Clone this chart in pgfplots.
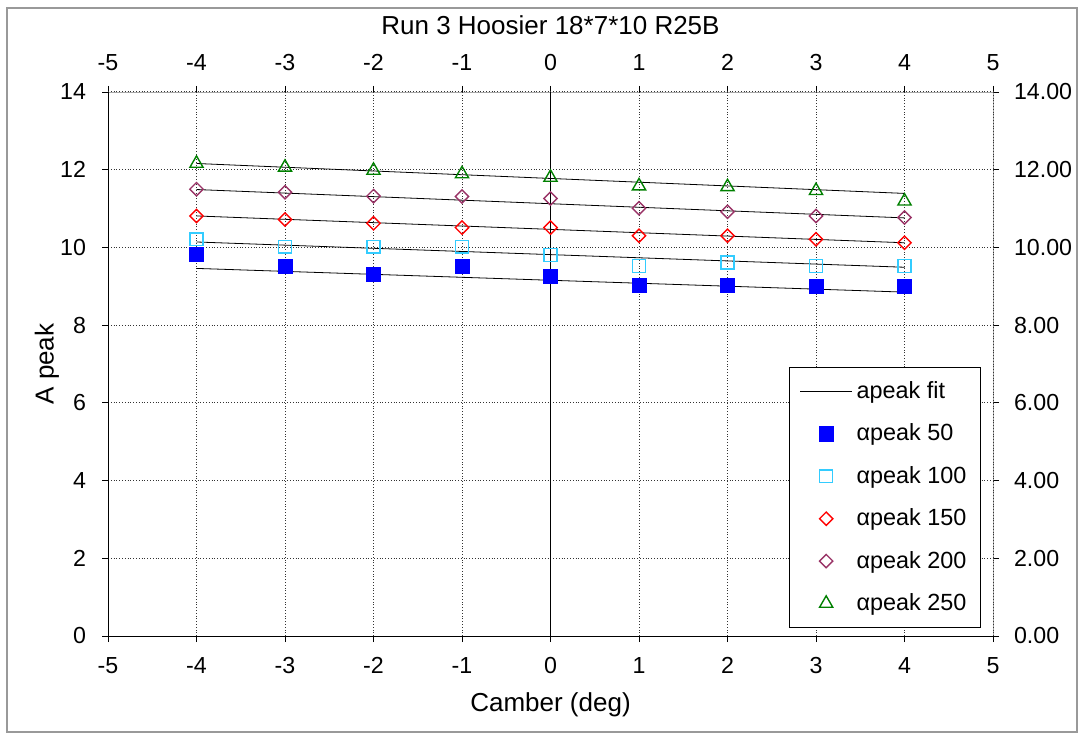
\documentclass[border=0pt]{standalone}
\usepackage{pgfplots}
\pgfplotsset{compat=1.18}
\usepackage{fontspec}
\setmainfont{Liberation Sans}

\definecolor{c50}{RGB}{0,0,255}
\definecolor{c100}{RGB}{51,204,255}
\definecolor{c150}{RGB}{255,0,0}
\definecolor{c200}{RGB}{153,51,102}
\definecolor{c250}{RGB}{0,128,0}

\pgfplotsset{
  base/.style={
    scale only axis,
    width=442.5pt, height=272pt,
    xmin=-5, xmax=5, ymin=0, ymax=14,
    xtick={-5,...,5}, ytick={0,2,...,14},
    tick style={black, thin},
    tick align=outside,
    major tick length=3pt,
    tick label style={font=\fontsize{11.6}{13}\selectfont},
    /pgf/number format/assume math mode=true,
  },
  fitleg/.style={legend image code/.code={\draw[##1] (0pt,0pt) -- (26pt,0pt);}},
  mk/.style={only marks,
    legend image code/.code={\draw[##1] plot coordinates {(13pt,0pt)};}},
}

\begin{document}
\begin{tikzpicture}
\useasboundingbox (-54pt,-49pt) rectangle (485.5pt,318pt);
\draw[gray!80, line width=0.8pt] (-50.5pt,-48pt) rectangle (484.5pt,314pt);

% secondary axis: top and right ticks
\begin{axis}[base,
    axis x line*=top, axis y line*=right,
    axis line style={gray!70},
    yticklabel={\pgfmathprintnumber[fixed,fixed zerofill,precision=2]{\tick}},
    xticklabel style={yshift=4pt},
    yticklabel style={xshift=4pt},
    title={Run 3 Hoosier 18*7*10 R25B},
    title style={font=\fontsize{13}{15}\selectfont, at={(0.5,1)}, anchor=center, yshift=27.5pt},
]
\addplot[draw=none] coordinates {(0,0)};
\end{axis}

\begin{axis}[base,
    axis x line*=bottom, axis y line*=left,
    axis line style={black},
    xmajorgrids, ymajorgrids,
    grid style={densely dotted, black!80, line width=0.5pt},
    xticklabel style={yshift=-4pt},
    yticklabel style={xshift=-4.5pt},
    xlabel={Camber (deg)}, ylabel={A peak},
    label style={font=\fontsize{13}{15}\selectfont},
    xlabel style={at={(axis description cs:0.5,-0.1268)}, anchor=center},
    ylabel style={at={(axis description cs:-0.0689,0.5)}, anchor=center},
    legend style={at={(rel axis cs:0.9864,0.0147)}, anchor=south east,
      font=\fontsize{11.7}{14}\selectfont, draw=black, line width=0.6pt,
      inner xsep=5pt, inner ysep=5pt, row sep=7.2pt, cells={anchor=west}},
    legend cell align=left,
]
% zero line
\addplot[black, thin, forget plot] coordinates {(0,0) (0,14)};

% linear fits
\addplot[black, thin, fitleg] coordinates {(-4,9.46) (4,8.85)};
\addlegendentry{apeak fit}
\addplot[black, thin, forget plot] coordinates {(-4,10.14) (4,9.49)};
\addplot[black, thin, forget plot] coordinates {(-4,10.81) (4,10.12)};
\addplot[black, thin, forget plot] coordinates {(-4,11.49) (4,10.76)};
\addplot[black, thin, forget plot] coordinates {(-4,12.16) (4,11.39)};

\addplot[mk, mark=square*, mark size=3.5pt, draw=c50, fill=c50] coordinates {
  (-4,9.82) (-3,9.51) (-2,9.31) (-1,9.51) (0,9.26) (1,9.01) (2,9.01) (3,9.00) (4,9.00)};
\addlegendentry{αpeak 50}
\addplot[mk, mark=square, mark size=3.2pt, draw=c100, line width=0.7pt] coordinates {
  (-4,10.21) (-3,10.02) (-2,10.02) (-1,10.02) (0,9.80) (1,9.52) (2,9.61) (3,9.52) (4,9.52)};
\addlegendentry{αpeak 100}
\addplot[mk, mark=square, mark size=2.35pt, mark options={rotate=45}, draw=c150, line width=0.7pt] coordinates {
  (-4,10.81) (-3,10.72) (-2,10.62) (-1,10.51) (0,10.51) (1,10.30) (2,10.30) (3,10.21) (4,10.12)};
\addlegendentry{αpeak 150}
\addplot[mk, mark=square, mark size=2.35pt, mark options={rotate=45}, draw=c200, line width=0.7pt] coordinates {
  (-4,11.50) (-3,11.42) (-2,11.32) (-1,11.31) (0,11.26) (1,11.01) (2,10.92) (3,10.81) (4,10.77)};
\addlegendentry{αpeak 200}
\addplot[mk, mark=triangle, mark size=3.8pt, draw=c250, line width=0.7pt] coordinates {
  (-4,12.16) (-3,12.06) (-2,11.98) (-1,11.89) (0,11.80) (1,11.58) (2,11.56) (3,11.46) (4,11.19)};
\addlegendentry{αpeak 250}
\end{axis}
\end{tikzpicture}
\end{document}
